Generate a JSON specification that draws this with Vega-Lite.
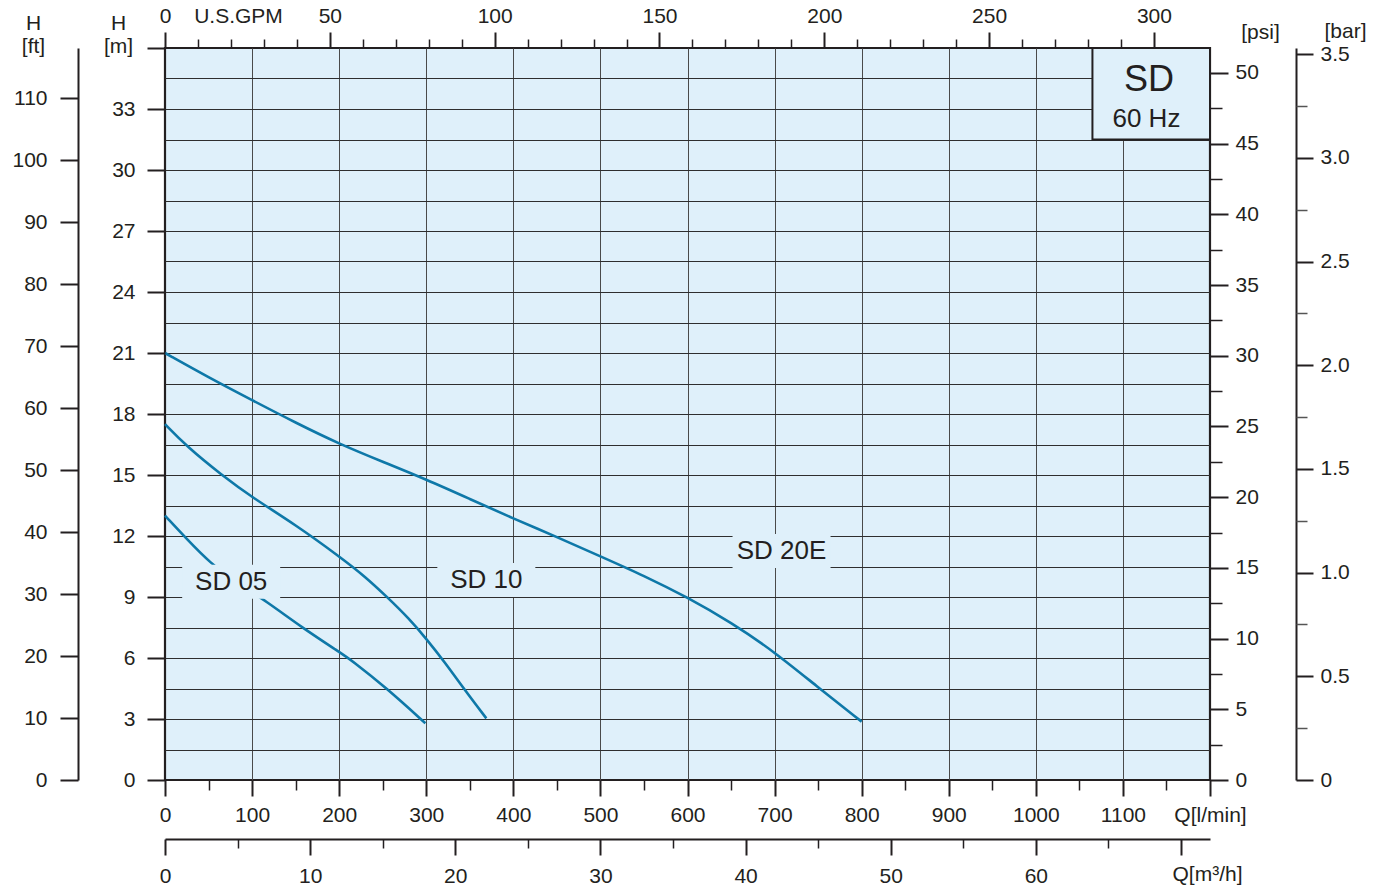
{
  "$schema": "https://vega.github.io/schema/vega-lite/v6.json",
  "autosize": {"type": "none"},
  "width": 1045,
  "height": 732,
  "padding": {"left": 165, "top": 48, "right": 174, "bottom": 109},
  "background": "white",
  "datasets": {
    "curves": [
      {"model": "SD 05", "q": 0, "h": 13.0},
      {"model": "SD 05", "q": 25, "h": 11.85},
      {"model": "SD 05", "q": 52, "h": 10.66},
      {"model": "SD 05", "q": 80, "h": 9.8},
      {"model": "SD 05", "q": 116, "h": 8.8},
      {"model": "SD 05", "q": 159, "h": 7.45},
      {"model": "SD 05", "q": 200, "h": 6.3},
      {"model": "SD 05", "q": 214, "h": 5.9},
      {"model": "SD 05", "q": 255, "h": 4.5},
      {"model": "SD 05", "q": 299, "h": 2.79},
      {"model": "SD 10", "q": 0, "h": 17.5},
      {"model": "SD 10", "q": 25, "h": 16.4},
      {"model": "SD 10", "q": 65, "h": 15.0},
      {"model": "SD 10", "q": 100, "h": 13.9},
      {"model": "SD 10", "q": 150, "h": 12.55},
      {"model": "SD 10", "q": 200, "h": 11.0},
      {"model": "SD 10", "q": 230, "h": 10.0},
      {"model": "SD 10", "q": 255, "h": 9.0},
      {"model": "SD 10", "q": 280, "h": 7.95},
      {"model": "SD 10", "q": 300, "h": 6.95},
      {"model": "SD 10", "q": 322, "h": 5.75},
      {"model": "SD 10", "q": 343, "h": 4.5},
      {"model": "SD 10", "q": 369, "h": 3.03},
      {"model": "SD 20E", "q": 0, "h": 21.0},
      {"model": "SD 20E", "q": 50, "h": 19.8},
      {"model": "SD 20E", "q": 100, "h": 18.68},
      {"model": "SD 20E", "q": 150, "h": 17.57},
      {"model": "SD 20E", "q": 200, "h": 16.53},
      {"model": "SD 20E", "q": 250, "h": 15.65},
      {"model": "SD 20E", "q": 300, "h": 14.78},
      {"model": "SD 20E", "q": 350, "h": 13.82},
      {"model": "SD 20E", "q": 400, "h": 12.86},
      {"model": "SD 20E", "q": 450, "h": 11.95},
      {"model": "SD 20E", "q": 500, "h": 11.0},
      {"model": "SD 20E", "q": 550, "h": 10.05},
      {"model": "SD 20E", "q": 600, "h": 8.98},
      {"model": "SD 20E", "q": 650, "h": 7.75},
      {"model": "SD 20E", "q": 700, "h": 6.3},
      {"model": "SD 20E", "q": 750, "h": 4.55},
      {"model": "SD 20E", "q": 800, "h": 2.87}
    ],
    "labels": [
      {"model": "SD 05", "q": 76, "h": 9.75},
      {"model": "SD 10", "q": 369, "h": 9.84},
      {"model": "SD 20E", "q": 708, "h": 11.26}
    ],
    "box": [
      {"q": 1065, "q2": 1200, "h": 31.5, "h2": 36}
    ],
    "boxtext": [
      {"label": "SD", "q": 1130, "h": 34.43},
      {"label": "60 Hz", "q": 1127, "h": 32.5}
    ]
  },
  "resolve": {"axis": {"x": "independent", "y": "independent"}},
  "layer": [
    {
      "data": {"name": "curves"},
      "mark": {"type": "line", "interpolate": "basis", "color": "#0e78a8", "strokeWidth": 2.6},
      "encoding": {
        "detail": {"field": "model"},
        "x": {"field": "q", "type": "quantitative", "scale": {"domain": [0, 1200], "nice": false, "zero": false},
          "axis": {"orient": "bottom", "grid": true, "gridColor": "#4a4a4a", "gridWidth": 1, "ticks": false, "labels": false, "domain": false, "title": null, "zindex": 0,
            "values": [100, 200, 300, 400, 500, 600, 700, 800, 900, 1000, 1100]}},
        "y": {"field": "h", "type": "quantitative", "scale": {"domain": [0, 36], "nice": false, "zero": false},
          "axis": {"orient": "left", "grid": true, "gridColor": "#2e2e2e", "gridWidth": 1, "ticks": false, "labels": false, "domain": false, "title": null, "zindex": 0,
            "values": [1.5, 3, 4.5, 6, 7.5, 9, 10.5, 12, 13.5, 15, 16.5, 18, 19.5, 21, 22.5, 24, 25.5, 27, 28.5, 30, 31.5, 33, 34.5]}}
      }
    },
    {
      "data": {"name": "curves"},
      "mark": {"type": "point", "opacity": 0},
      "encoding": {
        "x": {"field": "q", "type": "quantitative", "scale": {"domain": [0, 1200], "nice": false, "zero": false},
          "axis": {"orient": "bottom", "domain": false, "tickSize": 16, "tickWidth": 2, "labelPadding": 8, "title": null, "zindex": 1, "format": "d",
            "values": [0, 100, 200, 300, 400, 500, 600, 700, 800, 900, 1000, 1100, 1200],
            "labelExpr": "datum.value >= 1200 ? 'Q[l/min]' : datum.label"}},
        "y": {"field": "h", "type": "quantitative", "scale": {"domain": [0, 36], "nice": false, "zero": false},
          "axis": {"orient": "left", "domain": false, "tickSize": 18, "tickWidth": 2, "labelPadding": 12, "zindex": 1,
            "values": [0, 3, 6, 9, 12, 15, 18, 21, 24, 27, 30, 33, 36],
            "labelExpr": "datum.value >= 36 ? '' : datum.label",
            "title": ["H", "[m]"], "titleAngle": 0, "titleAlign": "center", "titleBaseline": "top", "titleX": -47, "titleY": -36, "titleLineHeight": 23}}
      }
    },
    {
      "data": {"name": "curves"},
      "mark": {"type": "point", "opacity": 0},
      "encoding": {
        "x": {"field": "q", "type": "quantitative", "scale": {"domain": [0, 1200], "nice": false, "zero": false},
          "axis": {"orient": "bottom", "domain": false, "tickSize": 10, "tickWidth": 1.5, "labels": false, "title": null, "zindex": 1,
            "values": [50, 150, 250, 350, 450, 550, 650, 750, 850, 950, 1050, 1150]}},
        "y": {"field": "h", "type": "quantitative", "scale": {"domain": [0, 36], "nice": false, "zero": false},
          "axis": {"orient": "left", "offset": 87, "domain": true, "domainWidth": 2, "tickSize": 18, "tickWidth": 2, "labelPadding": 13, "zindex": 1,
            "values": [0, 3.048, 6.096, 9.144, 12.192, 15.24, 18.288, 21.336, 24.384, 27.432, 30.48, 33.528],
            "labelExpr": "format(datum.value / 0.3048, '.0f')",
            "title": ["H", "[ft]"], "titleAngle": 0, "titleAlign": "center", "titleBaseline": "top", "titleX": -45, "titleY": -36, "titleLineHeight": 23}}
      }
    },
    {
      "data": {"name": "curves"},
      "mark": {"type": "point", "opacity": 0},
      "encoding": {
        "x": {"field": "q", "type": "quantitative", "scale": {"domain": [0, 1200], "nice": false, "zero": false},
          "axis": {"orient": "bottom", "offset": 59, "domain": true, "domainWidth": 2, "tickSize": 16, "tickWidth": 2, "labelPadding": 10, "zindex": 1,
            "values": [0, 166.667, 333.333, 500, 666.667, 833.333, 1000, 1166.667],
            "labelExpr": "datum.value > 1100 ? '' : format(datum.value / 16.6667, '.0f')",
            "title": "Q[m³/h]", "titleX": 1042, "titleY": 35, "titleBaseline": "middle", "titleAlign": "center"}},
        "y": {"field": "h", "type": "quantitative", "scale": {"domain": [0, 36], "nice": false, "zero": false},
          "axis": {"orient": "right", "domain": false, "tickSize": 18, "tickWidth": 2, "labelPadding": 7, "zindex": 1,
            "values": [0, 3.4775, 6.955, 10.4325, 13.91, 17.3875, 20.865, 24.3425, 27.82, 31.2975, 34.775],
            "labelExpr": "format(datum.value / 0.6955, '.0f')",
            "title": "[psi]", "titleAngle": 0, "titleAlign": "center", "titleBaseline": "middle", "titleX": 50, "titleY": -16}}
      }
    },
    {
      "data": {"name": "curves"},
      "mark": {"type": "point", "opacity": 0},
      "encoding": {
        "x": {"field": "q", "type": "quantitative", "scale": {"domain": [0, 1200], "nice": false, "zero": false},
          "axis": {"orient": "bottom", "offset": 59, "domain": false, "tickSize": 9, "tickWidth": 1.5, "labels": false, "title": null, "zindex": 1,
            "values": [83.333, 250, 416.667, 583.333, 750, 916.667, 1083.333]}},
        "y": {"field": "h", "type": "quantitative", "scale": {"domain": [0, 36], "nice": false, "zero": false},
          "axis": {"orient": "right", "domain": false, "tickSize": 12, "tickWidth": 1.5, "labels": false, "title": null, "zindex": 1,
            "values": [1.73875, 5.21625, 8.69375, 12.17125, 15.64875, 19.12625, 22.60375, 26.08125, 29.55875, 33.03625]}}
      }
    },
    {
      "data": {"name": "curves"},
      "mark": {"type": "point", "opacity": 0},
      "encoding": {
        "x": {"field": "q", "type": "quantitative", "scale": {"domain": [0, 1200], "nice": false, "zero": false},
          "axis": {"orient": "top", "domain": false, "tickSize": 16, "tickWidth": 2, "labelPadding": 6, "zindex": 1,
            "values": [0, 189.27, 378.54, 567.81, 757.08, 946.35, 1135.62],
            "labelExpr": "format(datum.value / 3.78541, '.0f')",
            "title": "U.S.GPM", "titleX": 73, "titleY": -32, "titleBaseline": "middle", "titleAlign": "center"}},
        "y": {"field": "h", "type": "quantitative", "scale": {"domain": [0, 36], "nice": false, "zero": false},
          "axis": {"orient": "right", "offset": 86, "domain": true, "domainWidth": 2, "tickSize": 17, "tickWidth": 2, "labelPadding": 7, "zindex": 1,
            "values": [0, 5.0985, 10.197, 15.2955, 20.394, 25.4925, 30.591, 35.6895],
            "labelExpr": "datum.value == 0 ? '0' : format(datum.value / 10.197, '.1f')",
            "title": "[bar]", "titleAngle": 0, "titleAlign": "center", "titleBaseline": "middle", "titleX": 49, "titleY": -17}}
      }
    },
    {
      "data": {"name": "curves"},
      "mark": {"type": "point", "opacity": 0},
      "encoding": {
        "x": {"field": "q", "type": "quantitative", "scale": {"domain": [0, 1200], "nice": false, "zero": false},
          "axis": {"orient": "top", "domain": false, "tickSize": 9, "tickWidth": 1.5, "labels": false, "title": null, "zindex": 1,
            "values": [37.854, 75.708, 113.562, 151.416, 227.125, 264.979, 302.833, 340.687, 416.395, 454.249, 492.103, 529.957, 605.666, 643.52, 681.374, 719.228, 794.936, 832.79, 870.644, 908.498, 984.207, 1022.061, 1059.915, 1097.769]}},
        "y": {"field": "h", "type": "quantitative", "scale": {"domain": [0, 36], "nice": false, "zero": false},
          "axis": {"orient": "right", "offset": 86, "domain": false, "tickSize": 11, "tickWidth": 1.5, "tickColor": "#555555", "labels": false, "title": null, "zindex": 1,
            "values": [2.549, 7.648, 12.746, 17.845, 22.943, 28.042, 33.140]}}
      }
    },
    {
      "data": {"name": "box"},
      "mark": {"type": "rect", "fill": "#dff0fa", "stroke": "#231f20", "strokeWidth": 2},
      "encoding": {
        "x": {"field": "q", "type": "quantitative", "scale": {"domain": [0, 1200], "nice": false, "zero": false}, "axis": null},
        "x2": {"field": "q2"},
        "y": {"field": "h", "type": "quantitative", "scale": {"domain": [0, 36], "nice": false, "zero": false}, "axis": null},
        "y2": {"field": "h2"}
      }
    },
    {
      "data": {"name": "labels"},
      "mark": {"type": "point", "filled": true, "opacity": 1, "color": "#dff0fa", "strokeWidth": 0, "size": 9604, "shape": "M-1,-0.347L1,-0.347L1,0.347L-1,0.347Z"},
      "encoding": {
        "x": {"field": "q", "type": "quantitative", "scale": {"domain": [0, 1200], "nice": false, "zero": false}, "axis": null},
        "y": {"field": "h", "type": "quantitative", "scale": {"domain": [0, 36], "nice": false, "zero": false}, "axis": null}
      }
    },
    {
      "data": {"name": "labels"},
      "mark": {"type": "text", "fontSize": 26, "color": "#231f20", "align": "center", "baseline": "middle"},
      "encoding": {
        "x": {"field": "q", "type": "quantitative", "scale": {"domain": [0, 1200], "nice": false, "zero": false}, "axis": null},
        "y": {"field": "h", "type": "quantitative", "scale": {"domain": [0, 36], "nice": false, "zero": false}, "axis": null},
        "text": {"field": "model"}
      }
    },
    {
      "data": {"name": "boxtext"},
      "transform": [{"filter": "datum.label == 'SD'"}],
      "mark": {"type": "text", "fontSize": 36, "color": "#231f20", "align": "center", "baseline": "middle"},
      "encoding": {
        "x": {"field": "q", "type": "quantitative", "scale": {"domain": [0, 1200], "nice": false, "zero": false}, "axis": null},
        "y": {"field": "h", "type": "quantitative", "scale": {"domain": [0, 36], "nice": false, "zero": false}, "axis": null},
        "text": {"field": "label"}
      }
    },
    {
      "data": {"name": "boxtext"},
      "transform": [{"filter": "datum.label == '60 Hz'"}],
      "mark": {"type": "text", "fontSize": 26, "color": "#231f20", "align": "center", "baseline": "middle"},
      "encoding": {
        "x": {"field": "q", "type": "quantitative", "scale": {"domain": [0, 1200], "nice": false, "zero": false}, "axis": null},
        "y": {"field": "h", "type": "quantitative", "scale": {"domain": [0, 36], "nice": false, "zero": false}, "axis": null},
        "text": {"field": "label"}
      }
    }
  ],
  "config": {
    "font": "Liberation Sans",
    "view": {"fill": "#dff0fa", "stroke": "#231f20", "strokeWidth": 2.2},
    "text": {"font": "Liberation Sans"},
    "axis": {
      "labelFont": "Liberation Sans",
      "titleFont": "Liberation Sans",
      "labelFontSize": 21,
      "titleFontSize": 21,
      "titleFontWeight": "normal",
      "labelColor": "#231f20",
      "titleColor": "#231f20",
      "tickColor": "#231f20",
      "domainColor": "#231f20",
      "labelFlush": false,
      "labelOverlap": false,
      "labelBound": false,
      "grid": false,
      "titlePadding": 0
    }
  }
}
